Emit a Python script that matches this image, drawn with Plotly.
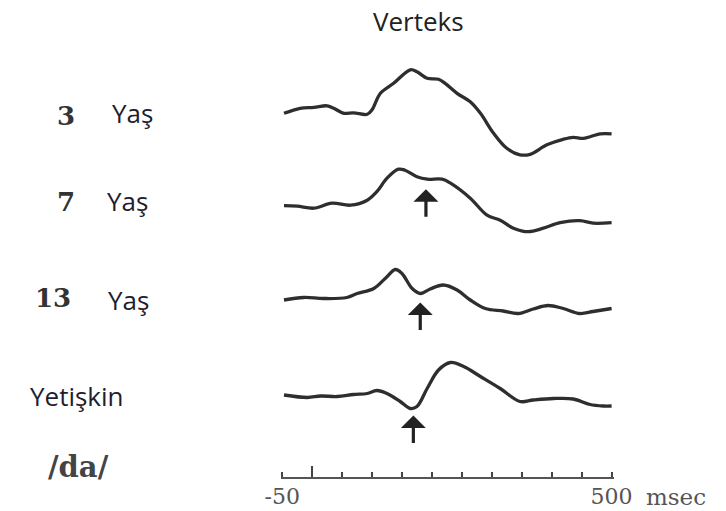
import plotly.graph_objects as go

# ---- data ----
series_names = ["3 Yaş", "7 Yaş", "13 Yaş", "Yetişkin"]

t_3 = [-47, -20, 3, 25, 36, 53, 69, 92, 100, 114, 136, 164, 175, 192, 211, 222, 242, 264, 281, 303, 325, 347, 364, 392, 419, 436, 453, 481, 500]
v_3 = [0, 1.0, 1.2, 1.5, 1.0, 0, 0.1, -0.2, 0.7, 4.0, 6.0, 8.7, 8.3, 7.0, 6.8, 6.0, 4.0, 2.3, 0, -4.0, -7.0, -8.3, -8.2, -6.3, -5.2, -4.8, -5.0, -4.1, -4.1]

t_7 = [-47, -25, 3, 33, 64, 92, 108, 125, 144, 155, 175, 192, 217, 231, 264, 292, 314, 336, 361, 386, 414, 447, 469, 500]
v_7 = [0, -0.1, -0.5, 0.5, 0.1, 1.1, 2.8, 5.5, 7.3, 7.1, 5.8, 5.3, 5.3, 4.5, 1.5, -1.9, -2.9, -4.5, -5.2, -4.5, -3.4, -3.0, -3.5, -3.4]

t_13 = [-47, -14, 19, 58, 75, 103, 122, 139, 150, 167, 181, 197, 219, 242, 264, 289, 319, 344, 369, 394, 419, 447, 469, 500]
v_13 = [0, 0.5, 0.3, 0.5, 1.3, 2.3, 4.3, 6.1, 5.3, 2.3, 1.3, 2.2, 3.0, 2.0, 0, -1.7, -2.2, -2.7, -1.8, -1.1, -1.7, -2.7, -2.3, -1.7]

t_ad = [-47, -8, 14, 42, 69, 92, 108, 125, 147, 164, 175, 192, 211, 231, 253, 281, 314, 347, 369, 403, 436, 464, 486, 500]
v_ad = [0, -0.5, -0.2, -0.3, 0.1, 0.3, 0.9, 0.3, -1.3, -2.7, -2.3, 1.3, 5.0, 6.5, 5.7, 3.7, 1.3, -1.3, -1.0, -0.7, -0.8, -1.9, -2.2, -2.2]

arrow_times = [190, 180.5, 169]          # ms, for 7 Yaş, 13 Yaş, Yetişkin
arrow_amps = [3.3, -0.5, -4.1]

axis_labels = ["-50", "500"]
axis_label_vals = [-50, 500]

# ---- layout helpers ----
L, R, T, B = 280.5, 111.9, 60, 34
W = 726 - L - R
H = 511 - T - B
offsets = [72.74, 54.26, 35.4, 16.4]   # vertical stacking of traces


def fx(px):
    return (px - L) / W


def fy(py):
    return (511 - B - py) / H


fig = go.Figure()
for t, v, off, name in zip([t_3, t_7, t_13, t_ad], [v_3, v_7, v_13, v_ad], offsets, series_names):
    fig.add_trace(go.Scatter(
        x=t, y=[a + off for a in v], mode="lines", name=name,
        line=dict(color="#2e2e2e", width=3.3, shape="spline", smoothing=1.0),
        hoverinfo="skip"))

# invisible trace carrying the labelled axis
fig.add_trace(go.Scatter(x=axis_label_vals, y=[0, 0], xaxis="x2", mode="markers",
                         marker=dict(opacity=0), hoverinfo="skip", showlegend=False))

annotations = []
for ms, amp, off in zip(arrow_times, arrow_amps, offsets[1:]):
    annotations.append(dict(
        x=ms, y=amp + off, xref="x", yref="y", text="", showarrow=True,
        ax=0, ay=29, arrowhead=1, arrowsize=1.3, arrowwidth=3.2, arrowcolor="#222"))

sans = "Open Sans"
serif = "DejaVu Serif"
txt_col = "#1e1e2e"

annotations += [
    dict(text="Verteks", x=fx(418.5), y=fy(21), font=dict(family=sans, size=26, color="#222")),
    dict(text="<b>3</b>", x=fx(65.5), y=fy(116), font=dict(family=serif, size=26, color="#333")),
    dict(text="<b>7</b>", x=fx(65.5), y=fy(202), font=dict(family=serif, size=26, color="#333")),
    dict(text="<b>13</b>", x=fx(52.5), y=fy(298), font=dict(family=serif, size=26, color="#333")),
    dict(text="Yaş", x=fx(109), y=fy(113), xanchor="left", font=dict(family=sans, size=26, color=txt_col)),
    dict(text="Yaş", x=fx(104), y=fy(201), xanchor="left", font=dict(family=sans, size=26, color=txt_col)),
    dict(text="Yaş", x=fx(105), y=fy(300), xanchor="left", font=dict(family=sans, size=26, color=txt_col)),
    dict(text="Yetişkin", x=fx(27), y=fy(396), xanchor="left", font=dict(family=sans, size=26, color=txt_col)),
    dict(text="<b>/da/</b>", x=fx(77.5), y=fy(467), font=dict(family=serif, size=29, color="#444")),
    dict(text="msec", x=fx(644), y=fy(497), xanchor="left", font=dict(family=serif, size=23, color="#555")),
]
for a in annotations[3:]:
    a.setdefault("xref", "paper")
    a.setdefault("yref", "paper")
    a.setdefault("showarrow", False)
    a.setdefault("yanchor", "middle")
    a.setdefault("xanchor", "center")

fig.update_layout(
    width=726, height=511,
    margin=dict(l=L, r=R, t=T, b=B, pad=0, autoexpand=False),
    paper_bgcolor="white", plot_bgcolor="white",
    showlegend=False,
    xaxis=dict(range=[-52, 504], showgrid=False, zeroline=False, automargin=False,
               showline=True, linecolor="#555", linewidth=2,
               ticks="inside", tickvals=[0], ticklen=11, tickwidth=2, tickcolor="#444",
               showticklabels=False,
               minor=dict(ticks="inside", ticklen=5, tickwidth=2, tickcolor="#444",
                          dtick=50, tick0=-50)),
    xaxis2=dict(range=[-52, 504], overlaying="x", anchor="y", side="bottom",
                automargin=False,
                showgrid=False, zeroline=False, showline=False, ticks="",
                tickvals=axis_label_vals, ticktext=axis_labels, ticklabelstandoff=4,
                tickfont=dict(family=serif, size=22, color="#555")),
    yaxis=dict(range=[0, 83.4], visible=False, automargin=False),
    annotations=annotations,
)

fig.write_html("out.html")
